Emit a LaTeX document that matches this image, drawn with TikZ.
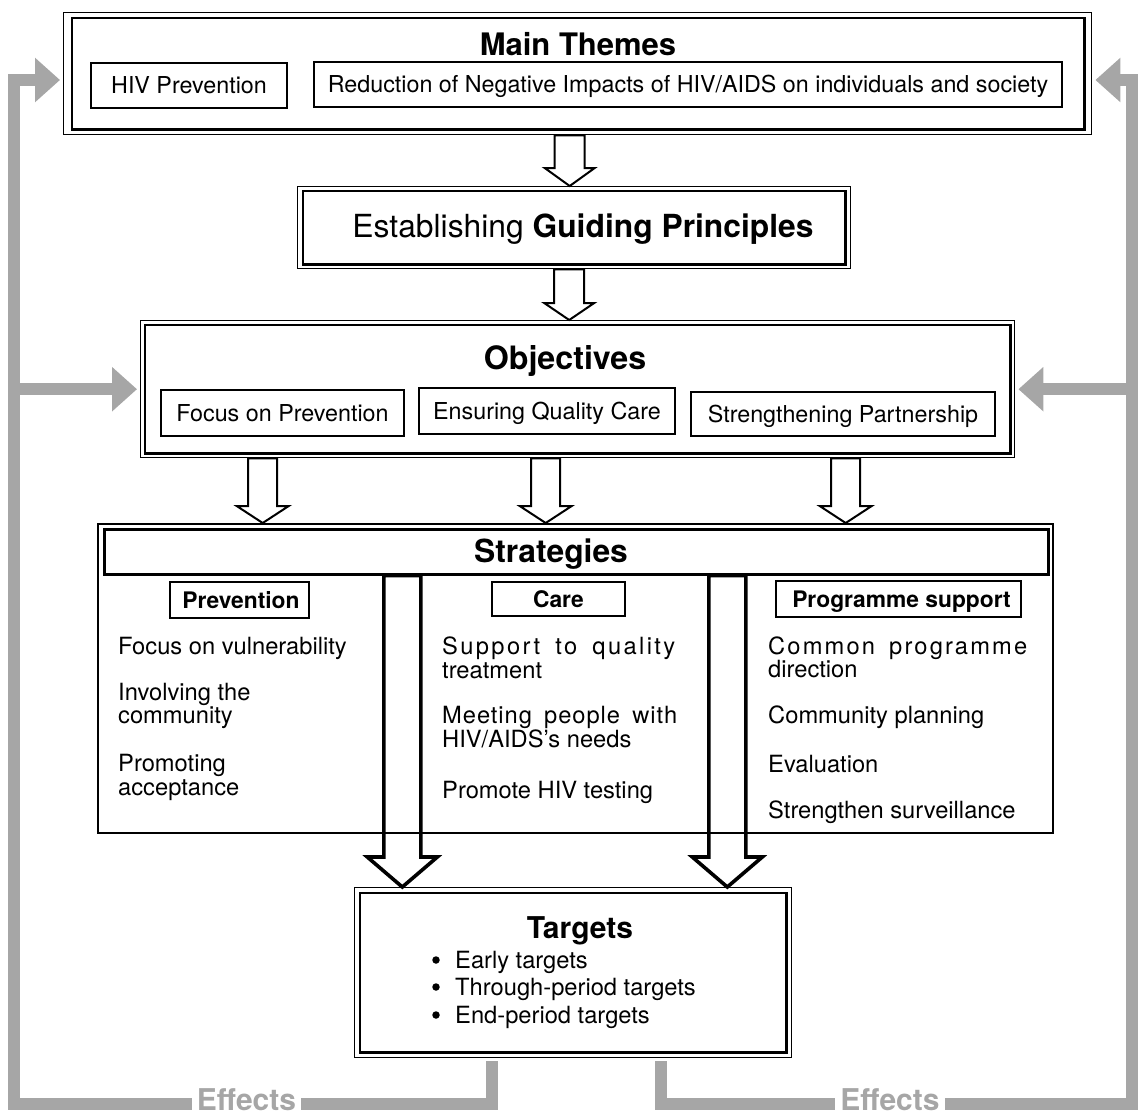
\documentclass[tikz,border=0pt]{standalone}
\usepackage{fontspec}
\setmainfont{TeX Gyre Heros}
\usetikzlibrary{calc,arrows.meta}
\definecolor{fbgray}{RGB}{166,166,166}
\newcommand\fs[1]{\fontsize{#1}{#1}\selectfont}
% #1 style, #2 top point, #3 tip point, #4 shaft half, #5 head half, #6 head length
\newcommand\blockarr[6]{%
  \draw[#1] let \p1=(#2), \p2=(#3) in
    (\x1-#4pt,\y1) -- (\x1-#4pt,\y2+#6pt) -- (\x1-#5pt,\y2+#6pt) -- (\x1,\y2)
    -- (\x1+#5pt,\y2+#6pt) -- (\x1+#4pt,\y2+#6pt) -- (\x1+#4pt,\y1) -- cycle;}
\begin{document}
\begin{tikzpicture}[x=1pt,y=-1pt,
  outerframe/.style={draw, line width=1.4pt, inner sep=0pt, anchor=north west},
  innerframe/.style={draw, line width=2.6pt},
  subbox/.style={draw, line width=2pt, inner sep=0pt, text height=16.5pt, text depth=0pt, font=\fs{23.3}},
  headbox/.style={draw, line width=2pt, inner sep=0pt, text height=16pt, text depth=0pt, font=\fs{22.8}\bfseries},
  title/.style={anchor=base, font=\fs{31.8}\bfseries},
  item/.style={anchor=base west, inner sep=0pt, font=\fs{23.7}},
  bul/.style={circle, fill, inner sep=0pt, minimum size=7.5pt},
  smallarrow/.style={draw, fill=white, line width=2pt, line join=miter},
  bigarrow/.style={draw, line width=3.6pt, line join=miter},
  fb/.style={draw=fbgray, line width=12pt, line join=miter},
  fbarrow/.style={fb, -{Triangle[length=25pt 0 0, width=43pt 0 0]}, shorten >=3pt},
  effects/.style={anchor=base, inner xsep=5pt, inner ysep=0pt, text=fbgray, font=\fs{30}\bfseries}
]
\useasboundingbox (0,0) rectangle (1139,1114);

% ---------- Main Themes ----------
\node[outerframe, minimum width=1028pt, minimum height=122pt] (mt) at (63,12) {};
\draw[innerframe] ($(mt.north west)+(9,6)$) rectangle ($(mt.south east)+(-8,-6)$);
\node[title, font=\fs{31}\bfseries] (mtt) at (578,55) {Main Themes};
\node[subbox, minimum width=196pt, minimum height=45pt] (hivp) at (189,85.5) {HIV Prevention};
\node[subbox, minimum width=748pt, minimum height=45pt] (red) at (688,84.5) {Reduction of Negative Impacts of HIV/AIDS on individuals and society};

% ---------- Guiding Principles ----------
\node[outerframe, minimum width=553pt, minimum height=82pt] (gp) at (297,186) {};
\draw[innerframe] ($(gp.north west)+(6,5)$) rectangle ($(gp.south east)+(-6,-5)$);
\node[anchor=base, font=\fs{31.8}] (gpt) at (583,237) {Establishing \textbf{Guiding Principles}};

% ---------- Objectives ----------
\node[outerframe, minimum width=874pt, minimum height=137pt] (obj) at (140,320) {};
\draw[innerframe] ($(obj.north west)+(5,5)$) rectangle ($(obj.south east)+(-5,-5)$);
\node[title, font=\fs{32.2}\bfseries] (objt) at (565,369) {Objectives};
\node[subbox, minimum width=243pt, minimum height=46pt] (o1) at (282.5,413) {Focus on Prevention};
\node[subbox, minimum width=256pt, minimum height=46pt] (o2) at (547,411) {Ensuring Quality Care};
\node[subbox, minimum width=304pt, minimum height=44pt] (o3) at (843,414) {Strengthening Partnership};

% ---------- Strategies ----------
\node[draw, line width=2.2pt, inner sep=0pt, anchor=north west, minimum width=955pt, minimum height=309pt] (st) at (97,523) {};
\node[draw, line width=2.6pt, inner sep=0pt, anchor=north west, minimum width=944pt, minimum height=45pt] (sth) at (103,528) {};
\node[title] (stt) at (551,562) {Strategies};

\node[headbox, minimum width=139pt, minimum height=36pt] (hp) at (239,600) {\hspace{4pt}Prevention};
\node[headbox, minimum width=133pt, minimum height=34pt] (hc) at (558.5,599) {Care};
\node[headbox, minimum width=245pt, minimum height=36pt] (hs) at (898.5,599) {\hspace{6pt}Programme support};

\node[item] (p1) at (118,654) {Focus on vulnerability};
\node[item] (p2a) at (118,700) {Involving the};
\node[item] (p2b) at (118,723) {community};
\node[item] (p3a) at (118,771) {Promoting};
\node[item] (p3b) at (118,795) {acceptance};

\node[item] (c1a) at (442,654) {\makebox[233pt][s]{\addfontfeature{LetterSpace=10}Support to quality}};
\node[item] (c1b) at (442,678) {treatment};
\node[item] (c2a) at (442,723) {\makebox[235pt][s]{\addfontfeature{LetterSpace=4}Meeting people with}};
\node[item] (c2b) at (442,747) {HIV/AIDS's needs};
\node[item] (c3) at (442,798) {Promote HIV testing};

\node[item] (s1a) at (768,654) {\makebox[259pt][s]{\addfontfeature{LetterSpace=9}Common programme}};
\node[item] (s1b) at (768,677) {direction};
\node[item] (s2) at (768,723) {Community planning};
\node[item] (s3) at (768,772) {Evaluation};
\node[item] (s4) at (768,818) {Strengthen surveillance};

% ---------- Targets ----------
\node[outerframe, minimum width=437pt, minimum height=170pt] (tg) at (354,887) {};
\draw[innerframe] ($(tg.north west)+(6,6)$) rectangle ($(tg.south east)+(-6,-6)$);
\node[anchor=base, font=\fs{30}\bfseries] (tgt) at (580,938) {Targets};
\node[bul] (b1) at (436,960) {};
\node[bul] (b2) at (436,987) {};
\node[bul] (b3) at (436,1015) {};
\node[item] (t1) at (455,968) {Early targets};
\node[item] (t2) at (455,995) {Through-period targets};
\node[item] (t3) at (455,1023) {End-period targets};

% ---------- hollow arrows ----------
\blockarr{smallarrow}{$(mt.south)+(-8,0)$}{$(gp.north)+(-8,0)$}{15}{25}{18}
\blockarr{smallarrow}{$(gp.south)+(-5,0)$}{$(obj.north)+(-9,0)$}{15}{25}{17}
\blockarr{smallarrow}{$(obj.south)+(-315,0)$}{$(st.north)+(-312.5,0)$}{14.5}{26}{17}
\blockarr{smallarrow}{$(obj.south)+(-32,0)$}{$(st.north)+(-29.5,0)$}{14.5}{26}{17}
\blockarr{smallarrow}{$(obj.south)+(268,0)$}{$(st.north)+(270.5,0)$}{14.5}{26}{17}

\blockarr{bigarrow}{$(sth.south)+(-174,0)$}{$(tg.north)+(-171.5,0)$}{18.5}{35}{30}
\blockarr{bigarrow}{$(sth.south)+(151,0)$}{$(tg.north)+(153.5,0)$}{18.5}{35}{30}

% ---------- feedback (Effects) ----------
\node[effects] (eff1) at (246.5,1110) {Effects};
\node[effects] (eff2) at (890,1110) {Effects};
\coordinate (ltop) at (14,80);
\coordinate (lbot) at (14,1104);
\coordinate (rtop) at (1132,80);
\coordinate (tl) at ($(tg.south)+(-81.5,0)$);
\coordinate (tr) at ($(tg.south)+(87.5,0)$);

\draw[fb, shorten <=3pt] (tl) |- (eff1.east |- lbot);
\draw[fbarrow] (eff1.west |- lbot) -- (lbot) -- (ltop) -- (ltop -| mt.west);
\draw[fbarrow] (ltop |- obj.west) -- (obj.west);

\draw[fb, shorten <=3pt] (tr) |- (eff2.west |- lbot);
\draw[fbarrow] (eff2.east |- lbot) -- (rtop |- lbot) -- (rtop) -- (rtop -| mt.east);
\draw[fbarrow] (rtop |- obj.east) -- (obj.east);
\end{tikzpicture}
\end{document}
